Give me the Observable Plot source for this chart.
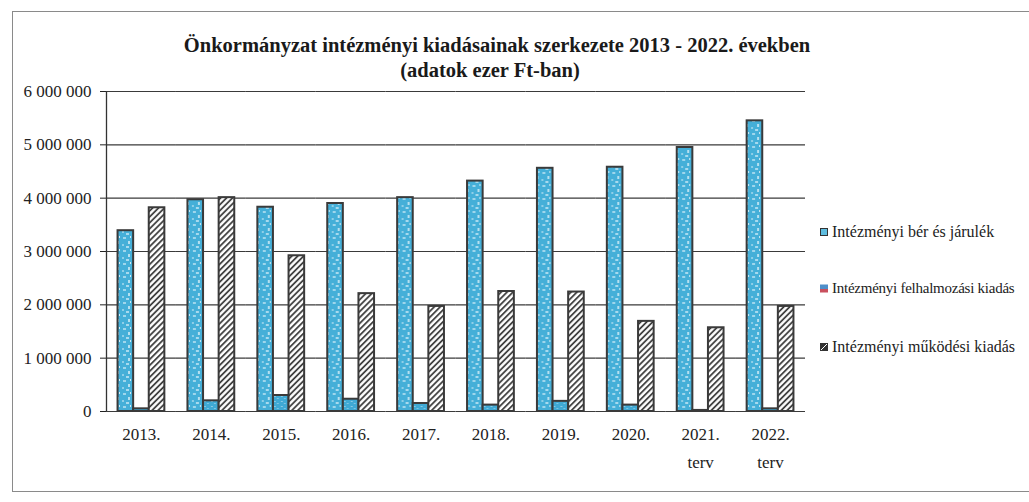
<!DOCTYPE html>
<html>
<head>
<meta charset="utf-8">
<script src="https://cdn.jsdelivr.net/npm/d3@7"></script>
<script src="https://cdn.jsdelivr.net/npm/@observablehq/plot@0.6"></script>
<style>
  html, body { margin: 0; padding: 0; background: #fff; }
  #page { position: relative; width: 1029px; height: 502px; overflow: hidden; font-family: "Liberation Serif", "Tinos", "Times New Roman", "DejaVu Serif", "Noto Serif", serif; color: #222; }
  #frame { position: absolute; left: 12px; top: 11px; width: 1040px; height: 481px; border: 1.5px solid #8a8a8a; border-right: none; box-sizing: border-box; }
  .title { position: absolute; font-weight: bold; font-size: 20.5px; white-space: nowrap; transform: translate(-50%, -50%); color: #1a1a1a; }
  #chart { position: absolute; left: 0; top: 80px; }
  .leg { position: absolute; left: 820px; font-size: 16px; white-space: nowrap; display: flex; align-items: center; transform: translateY(-50%); }
  .sw { width: 8px; height: 8px; margin-right: 4px; box-sizing: border-box; flex: none; }
</style>
</head>
<body>
<div id="page">
  <div id="frame"></div>
  <div class="title" style="left:497px;top:45px">Önkormányzat intézményi kiadásainak szerkezete 2013 - 2022. években</div>
  <div class="title" style="left:490px;top:70px">(adatok ezer Ft-ban)</div>
  <div id="chart"></div>
  <div id="legend"></div>
</div>
<script>
// ---- data (ezer Ft) ----
const years = ["2013.", "2014.", "2015.", "2016.", "2017.", "2018.", "2019.", "2020.", "2021.", "2022."];
const yearNotes = ["", "", "", "", "", "", "", "", "terv", "terv"];
const seriesNames = ["Intézményi bér és járulék", "Intézményi felhalmozási kiadás", "Intézményi működési kiadás"];
const berEsJarulek = [3390000, 3970000, 3830000, 3900000, 4010000, 4320000, 4560000, 4580000, 4950000, 5450000];
const felhalmozasi = [50000, 200000, 300000, 230000, 150000, 120000, 190000, 120000, 20000, 50000];
const mukodesi = [3820000, 4010000, 2920000, 2210000, 1970000, 2250000, 2240000, 1690000, 1570000, 1970000];
const yTicks = [0, 1000000, 2000000, 3000000, 4000000, 5000000, 6000000];

const seriesValues = [berEsJarulek, felhalmozasi, mukodesi];
const rows = years.flatMap((y, i) => seriesNames.map((s, j) => ({year: y, series: s, value: seriesValues[j][i]})));
const labels = years.map((y, i) => ({year: y, label: yearNotes[i] ? y + "\n" + yearNotes[i] : y}));

const fmt = d => d3.format(",")(d).replace(/,/g, "\u00a0");

const W = 1029, mL = 106, mR = 224;
const xPadOuter = 0.74;
// offset from a series band centre to the facet's left edge (for the y-axis line)
const facetW = (W - mL - mR) / years.length;
const inner = d3.scaleBand().domain(seriesNames).range([0, facetW]).paddingInner(0).paddingOuter(xPadOuter);
const axisDx = -(inner(seriesNames[0]) + inner.bandwidth() / 2);

const plot = Plot.plot({
  width: W,
  height: 400,
  marginLeft: mL,
  marginRight: mR,
  marginTop: 11,
  marginBottom: 69,
  style: {fontFamily: "'Liberation Serif', Tinos, 'Times New Roman', 'DejaVu Serif', serif", fontSize: "17px", color: "#222", background: "transparent"},
  fx: {domain: years, padding: 0, paddingInner: 0, paddingOuter: 0, round: false, axis: null},
  x: {domain: seriesNames, paddingInner: 0, paddingOuter: xPadOuter, round: false, axis: null},
  y: {domain: [0, 6000000], ticks: yTicks, tickFormat: fmt, tickSize: 6, tickPadding: 9, label: null},
  color: {domain: seriesNames, range: ["url(#blueTex)", "url(#blueTex2)", "url(#hatch)"]},
  marks: [
    Plot.ruleY(yTicks, {y: d => d, stroke: "#3a3a3a", strokeWidth: 1.2}),
    Plot.ruleX([years[0]], {fx: d => d, x: () => seriesNames[0], y1: 0, y2: 6000000, dx: axisDx, stroke: "#333", strokeWidth: 1.3}),
    Plot.barY(rows, {fx: "year", x: "series", y: "value", fill: "series", stroke: "#3a3a3a", strokeWidth: 2}),
    Plot.text(labels, {fx: "year", text: "label", frameAnchor: "bottom", lineAnchor: "top", dy: 9, lineHeight: 1.62, fill: "#222"})
  ]
});

// patterns
const ns = "http://www.w3.org/2000/svg";
const defs = document.createElementNS(ns, "defs");
defs.innerHTML = `
  <pattern id="hatch" patternUnits="userSpaceOnUse" width="4.2" height="4.2" patternTransform="rotate(45)">
    <rect width="4.2" height="4.2" fill="#ffffff"/>
    <line x1="1" y1="0" x2="1" y2="4.2" stroke="#333" stroke-width="1.7"/>
  </pattern>
  <pattern id="blueTex" patternUnits="userSpaceOnUse" width="11" height="13">
    <rect width="11" height="13" fill="#45afd8"/>
    <rect x="2" y="1" width="3" height="2" fill="#9fd6ec"/>
    <rect x="7" y="5" width="2" height="3" fill="#b6e0f0"/>
    <rect x="1" y="8" width="2" height="2" fill="#8fcfe8"/>
    <rect x="5" y="10" width="3" height="2" fill="#a8daee"/>
    <rect x="9" y="0" width="1" height="2" fill="#cfeaf5"/>
  </pattern>
  <pattern id="blueTex2" patternUnits="userSpaceOnUse" width="7" height="5">
    <rect width="7" height="5" fill="#3fa9d4"/>
    <rect x="1" y="1" width="2" height="1" fill="#8ccbe5"/>
    <rect x="4" y="3" width="2" height="1" fill="#7fc4e2"/>
  </pattern>`;
plot.insertBefore(defs, plot.firstChild);
document.getElementById("chart").appendChild(plot);

// legend
const swStyles = [
  "background:#5fbddf;border:1.5px solid #333;",
  "background:linear-gradient(#4f8fc9 55%, #c9505e 55%);",
  "background:linear-gradient(135deg, #333 42%, #fff 42%, #fff 58%, #333 58%);border:1px solid #333;"
];
const legendY = [232, 288, 347];
const legendExtra = ["", "font-size:15px;letter-spacing:-0.25px;", ""];
const legend = document.getElementById("legend");
seriesNames.forEach((s, i) => {
  const d = document.createElement("div");
  d.className = "leg";
  d.style.top = legendY[i] + "px";
  d.innerHTML = `<span class="sw" style="${swStyles[i]}"></span><span style="${legendExtra[i]}">${s}</span>`;
  legend.appendChild(d);
});
</script>
</body>
</html>
